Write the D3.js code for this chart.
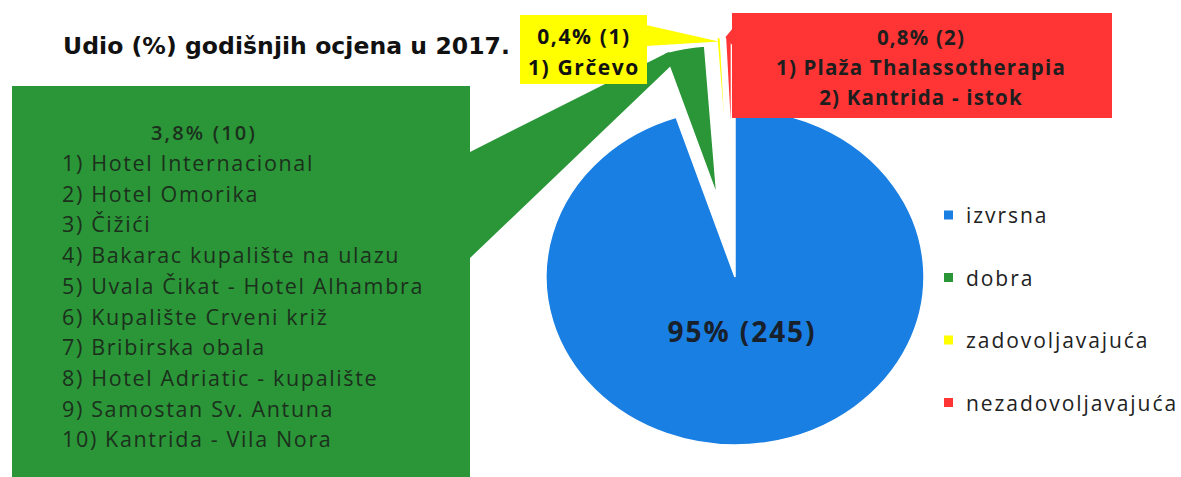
<!DOCTYPE html>
<html>
<head>
<meta charset="utf-8">
<title>Udio godišnjih ocjena 2017.</title>
<script src="https://cdn.jsdelivr.net/npm/d3@7"></script>
<style>
    body { margin: 0; background: #fff; }
    svg { display: block; font-family: "Open Sans", Lato, sans-serif; }
</style>
</head>
<body>
<script>
    var title = "Udio (%) godišnjih ocjena u 2017.";
    var categories = ["izvrsna", "dobra", "zadovoljavajuća", "nezadovoljavajuća"];
    var counts = [245, 10, 1, 2];
    var percentLabels = ["95%", "3,8%", "0,4%", "0,8%"];
    var dobraSites = ["Hotel Internacional", "Hotel Omorika", "Čižići", "Bakarac kupalište na ulazu",
        "Uvala Čikat - Hotel Alhambra", "Kupalište Crveni križ", "Bribirska obala",
        "Hotel Adriatic - kupalište", "Samostan Sv. Antuna", "Kantrida - Vila Nora"];
    var zadovoljavajucaSites = ["Grčevo"];
    var nezadovoljavajucaSites = ["Plaža Thalassotherapia", "Kantrida - istok"];

    var width = 1181, height = 477;
    var colors = ["#1a7fe2", "#2a9637", "#ffff00", "#ff3535"];
    var explode = [0, 83, 110, 130];     // izvlačenje kriški
    var radius = [168, 150, 130, 110];
    var cx = 735, cy = 277, sx = 1.125;  // slika je malo razvučena vodoravno

    var svg = d3.select("body").append("svg")
        .attr("width", width)
        .attr("height", height);
    svg.append("rect").attr("width", width).attr("height", height).attr("fill", "#fff");

    var pie = d3.pie().sort(null).value(function (d) { return d; });
    var piedata = pie(counts);

    function offset(d, i) {
        var a = (d.startAngle + d.endAngle) / 2;
        return [Math.sin(a) * explode[i], -Math.cos(a) * explode[i]];
    }
    // točka na rubu kriške, u koordinatama stranice
    function edgePoint(i, angle, r) {
        var o = offset(piedata[i], i);
        return [cx + sx * (o[0] + Math.sin(angle) * r), cy + o[1] - Math.cos(angle) * r];
    }

    var pieG = svg.append("g")
        .attr("transform", "translate(" + cx + "," + cy + ") scale(" + sx + ",1)");
    pieG.selectAll("path")
        .data(piedata)
        .enter()
        .append("path")
        .attr("transform", function (d, i) { return "translate(" + offset(d, i) + ")"; })
        .attr("d", function (d, i) { return d3.arc().innerRadius(0).outerRadius(radius[i])(d); })
        .attr("fill", function (d, i) { return colors[i]; })
        .attr("stroke", "#fff")
        .attr("stroke-width", 1.5)
        .attr("vector-effect", "non-scaling-stroke");

    function fitSpacing(sel, target) {
        sel.each(function () {
            var t = d3.select(this);
            t.attr("letter-spacing", null);
            var w = this.getComputedTextLength();
            t.attr("letter-spacing", (target - w) / t.text().length);
        });
    }
    function fitAllTo(sel, node, target) {
        var ls = (target - node.getComputedTextLength()) / node.textContent.length;
        sel.attr("letter-spacing", ls);
    }

    // oblačići
    var callouts = svg.append("g");
    var g = piedata[1], y = piedata[2], r = piedata[3];

    var gTipA = edgePoint(1, g.startAngle + 0.03, radius[1]);
    var gTipB = edgePoint(1, g.startAngle + 0.01, radius[1] - 14);
    callouts.append("polygon")
        .attr("points", [[470, 152], gTipA, gTipB, [470, 258]].join(" "))
        .attr("fill", colors[1]);
    callouts.append("rect")
        .attr("x", 12).attr("y", 86).attr("width", 458).attr("height", 400)
        .attr("fill", colors[1]);

    var yTip = edgePoint(2, (y.startAngle + y.endAngle) / 2, radius[2] - 4);
    callouts.append("polygon")
        .attr("points", [[646, 25], yTip, [646, 46]].join(" "))
        .attr("fill", colors[2]);
    callouts.append("rect")
        .attr("x", 520).attr("y", 15).attr("width", 127).attr("height", 69)
        .attr("fill", colors[2]);

    var rTip = edgePoint(3, r.startAngle, radius[3]);
    callouts.append("polygon")
        .attr("points", [[733, 28], rTip, [733, 46]].join(" "))
        .attr("fill", colors[3]);
    callouts.append("rect")
        .attr("x", 732).attr("y", 13).attr("width", 380).attr("height", 105)
        .attr("fill", colors[3]);

    function header(i) { return percentLabels[i] + " (" + counts[i] + ")"; }

    // naslov
    var t = svg.append("text")
        .attr("x", 63).attr("y", 54)
        .attr("font-family", "'DejaVu Sans', sans-serif")
        .attr("font-size", 23.5).attr("font-weight", "bold")
        .attr("fill", "#111")
        .text(title);
    fitSpacing(t, 447);

    // zelena lista
    var gh = svg.append("text")
        .attr("x", 204).attr("y", 140)
        .attr("text-anchor", "middle")
        .attr("font-size", 20).attr("font-weight", 600)
        .attr("fill", "#1c2f1d")
        .text(header(1));
    fitSpacing(gh, 106);
    var gl = svg.append("g").selectAll("text")
        .data(dobraSites)
        .enter()
        .append("text")
        .attr("x", 62)
        .attr("y", function (d, i) { return 171 + i * 30.7; })
        .attr("font-size", 21.5)
        .attr("fill", "#1c2f1d")
        .text(function (d, i) { return (i + 1) + ")" + (i == 9 ? "  " : " ") + d; });
    fitAllTo(gl, gl.nodes()[4], 362);

    // žuti oblačić
    var yl = svg.append("g").selectAll("text")
        .data([header(2)].concat(zadovoljavajucaSites.map(function (d, i) { return (i + 1) + ") " + d; })))
        .enter()
        .append("text")
        .attr("x", 584)
        .attr("y", function (d, i) { return 44 + i * 31; })
        .attr("text-anchor", "middle")
        .attr("font-size", 21).attr("font-weight", "bold")
        .attr("fill", "#111")
        .text(function (d) { return d; });
    fitAllTo(yl, yl.nodes()[1], 112);

    // crveni oblačić
    var rl = svg.append("g").selectAll("text")
        .data([header(3)].concat(nezadovoljavajucaSites.map(function (d, i) { return (i + 1) + ") " + d; })))
        .enter()
        .append("text")
        .attr("x", 921)
        .attr("y", function (d, i) { return 45 + i * 30; })
        .attr("text-anchor", "middle")
        .attr("font-size", 20.5).attr("font-weight", "bold")
        .attr("fill", "#1e1e1e")
        .text(function (d) { return d; });
    fitAllTo(rl, rl.nodes()[1], 290);

    // oznaka velike kriške
    var big = svg.append("text")
        .attr("x", 742).attr("y", 342)
        .attr("text-anchor", "middle")
        .attr("font-size", 28).attr("font-weight", "bold")
        .attr("fill", "#18202c")
        .text(header(0));
    fitSpacing(big, 149);

    // legenda
    var legend = svg.append("g").selectAll("g")
        .data(categories)
        .enter()
        .append("g")
        .attr("transform", function (d, i) { return "translate(944," + (215 + i * 62.5) + ")"; });
    legend.append("rect")
        .attr("x", 0).attr("y", -4.5)
        .attr("width", 9).attr("height", 9)
        .attr("fill", function (d, i) { return colors[i]; });
    var lt = legend.append("text")
        .attr("x", 22).attr("y", 8)
        .attr("font-size", 21)
        .attr("fill", "#222")
        .text(function (d) { return d; });
    fitAllTo(lt, lt.nodes()[3], 212);
</script>
</body>
</html>
